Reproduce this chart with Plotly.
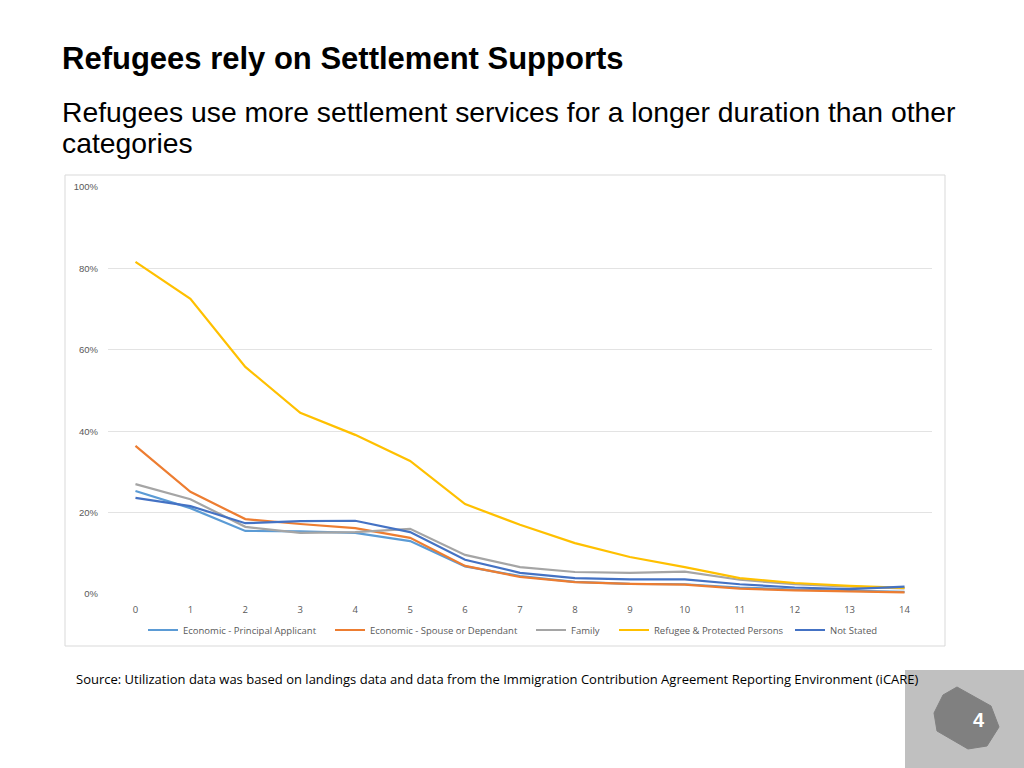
import plotly.graph_objects as go

years = list(range(15))
x_labels = [str(v) for v in years]

principal = [25.3, 21.1, 15.5, 15.4, 15.0, 13.0, 6.8, 4.4, 3.0, 2.5, 2.4, 1.6, 1.1, 0.8, 0.5]
spouse = [36.4, 25.1, 18.4, 17.2, 16.2, 13.8, 6.9, 4.2, 2.9, 2.5, 2.3, 1.3, 0.9, 0.6, 0.4]
family = [27.0, 23.3, 16.5, 15.0, 15.2, 16.0, 9.6, 6.6, 5.4, 5.2, 5.5, 3.5, 2.4, 1.8, 1.4]
refugee = [81.6, 72.5, 55.8, 44.5, 39.1, 32.7, 22.1, 17.0, 12.5, 9.1, 6.6, 3.9, 2.7, 2.0, 1.5]
not_stated = [23.6, 21.6, 17.4, 17.9, 18.0, 15.2, 8.4, 5.2, 3.9, 3.6, 3.6, 2.4, 1.6, 1.2, 1.8]

series_names = ["Economic - Principal Applicant", "Economic - Spouse or Dependant", "Family",
                "Refugee & Protected Persons", "Not Stated"]
series_values = [principal, spouse, family, refugee, not_stated]
series_colors = ["#5B9BD5", "#ED7D31", "#A5A5A5", "#FFC000", "#4472C4"]

y_ticks = [0, 20, 40, 60, 80, 100]
y_tick_labels = ["0%", "20%", "40%", "60%", "80%", "100%"]

W, H = 1024, 768

def px(x):
    return x / W

def py(y):
    return 1 - y / H

# legend entry start positions (pixels) of each series' legend line
legend_starts = [148, 335, 536, 619, 795]
legend_ids = ["legend", "legend2", "legend3", "legend4", "legend5"]

fig = go.Figure()
for name, vals, col, lid in zip(series_names, series_values, series_colors, legend_ids):
    fig.add_trace(go.Scatter(x=years, y=vals, mode="lines", name=name, legend=lid,
                             line=dict(color=col, width=2.2)))

legend_common = dict(orientation="h", xanchor="left", yanchor="middle", y=py(630),
                     font=dict(family="Open Sans", size=9.5, color="#595959"),
                     bgcolor="rgba(0,0,0,0)", itemwidth=30, borderwidth=0)

layout_legends = {}
for lid, start in zip(legend_ids, legend_starts):
    layout_legends[lid] = dict(legend_common, x=px(start - 5))

fig.update_layout(
    width=W, height=H,
    margin=dict(l=0, r=0, t=0, b=0, pad=0, autoexpand=False),
    paper_bgcolor="white", plot_bgcolor="white",
    font=dict(family="Liberation Sans", color="#595959"),
    xaxis=dict(domain=[px(108), px(932)], range=[-0.5, 14.5], automargin=False,
               tickvals=years, ticktext=x_labels, showgrid=False, zeroline=False,
               showline=False, ticks="", tickfont=dict(family="Open Sans", size=9.5, color="#595959"),
               ticklabelstandoff=8, fixedrange=True),
    yaxis=dict(domain=[py(594), py(187)], range=[0, 100], automargin=False,
               tickvals=y_ticks, ticktext=y_tick_labels, showgrid=True,
               gridcolor="#e3e3e3", gridwidth=1, zeroline=False, showline=False,
               ticks="", tickfont=dict(size=9.5, color="#595959"), ticklabelstandoff=9,
               fixedrange=True),
    showlegend=True,
    **layout_legends,
)

# chart frame
fig.add_shape(type="rect", xref="paper", yref="paper",
              x0=px(65), x1=px(945), y0=py(646), y1=py(175),
              line=dict(color="#d9d9d9", width=1), fillcolor="rgba(0,0,0,0)", layer="below")

# slide title texts
fig.add_annotation(xref="paper", yref="paper", x=px(60), y=py(59), xanchor="left", yanchor="middle",
                   text="<b>Refugees rely on Settlement Supports</b>", showarrow=False,
                   font=dict(family="Liberation Sans", size=31, color="#000000"))
fig.add_annotation(xref="paper", yref="paper", x=px(60), y=py(112), xanchor="left", yanchor="middle",
                   text="Refugees use more settlement services for a longer duration than other",
                   showarrow=False, align="left",
                   font=dict(family="Liberation Sans", size=28.3, color="#000000"))
fig.add_annotation(xref="paper", yref="paper", x=px(60), y=py(143), xanchor="left", yanchor="middle",
                   text="categories",
                   showarrow=False, align="left",
                   font=dict(family="Liberation Sans", size=28.3, color="#000000"))
fig.add_annotation(xref="paper", yref="paper", x=px(74), y=py(679), xanchor="left", yanchor="middle",
                   text="Source: Utilization data was based on landings data and data from the Immigration Contribution Agreement Reporting Environment (iCARE)",
                   showarrow=False,
                   font=dict(family="Open Sans", size=13, color="#000000"))

# page number decoration
fig.add_shape(type="rect", xref="paper", yref="paper",
              x0=px(905), x1=px(1024), y0=py(768), y1=py(670),
              line=dict(width=0), fillcolor="#c0c0c0", layer="below")
pts = [(957, 687), (991, 706), (999, 727), (987, 746), (968, 749), (937, 731), (934, 713), (943, 695)]
path = "M " + " L ".join(f"{px(a):.5f},{py(b):.5f}" for a, b in pts) + " Z"
fig.add_shape(type="path", xref="paper", yref="paper", path=path,
              line=dict(color="#808080", width=1), fillcolor="#808080")
fig.add_annotation(xref="paper", yref="paper", x=px(979), y=py(720), xanchor="center", yanchor="middle",
                   text="<b>4</b>", showarrow=False,
                   font=dict(family="Liberation Sans", size=20, color="#ffffff"))

post = ("var d=document.getElementById('{plot_id}');"
        "d.style.position='fixed';d.style.top='0px';d.style.left='0px';"
        "document.body.style.margin='0';document.documentElement.style.overflow='hidden';"
        "document.body.style.overflow='hidden';")
fig.write_html("out.html", config={"displayModeBar": False}, post_script=post)
